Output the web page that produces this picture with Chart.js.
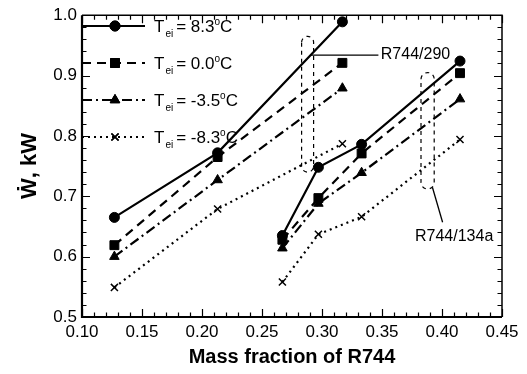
<!DOCTYPE html>
<html>
<head>
<meta charset="utf-8">
<script src="https://cdn.jsdelivr.net/npm/chart.js@4/dist/chart.umd.min.js"></script>
<style>
  html, body { margin: 0; padding: 0; background: #ffffff; }
  #wrap { width: 527px; height: 374px; }
</style>
</head>
<body>
<div id="wrap"><canvas id="c" width="527" height="374"></canvas></div>
<script>
// Mass fraction of R744 in each blend
const massFractionR290 = [0.127, 0.213, 0.317];          // R744/290
const massFractionR134a = [0.267, 0.297, 0.333, 0.415];  // R744/134a

// Evaporator inlet temperatures (legend), degrees C
const evapTemps = ['8.3', '0.0', '-3.5', '-8.3'];

// Compressor power, kW
const powerR290_83 = [0.665, 0.772, 0.989];
const powerR134a_83 = [0.635, 0.748, 0.786, 0.924];
const powerR290_00 = [0.619, 0.765, 0.921];
const powerR134a_00 = [0.628, 0.697, 0.771, 0.904];
const powerR290_m35 = [0.600, 0.727, 0.879];
const powerR134a_m35 = [0.614, 0.688, 0.739, 0.861];
const powerR290_m83 = [0.549, 0.679, 0.787];
const powerR134a_m83 = [0.558, 0.637, 0.666, 0.794];

// Axis ticks
const xTickValues = [0.10, 0.15, 0.20, 0.25, 0.30, 0.35, 0.40, 0.45];
const yTickValues = [0.5, 0.6, 0.7, 0.8, 0.9, 1.0];

const FONT = "'Liberation Sans', Arial, Helvetica, sans-serif";

function joinBlends(xa, ya, xb, yb) {
  const pts = xa.map((x, i) => ({ x: x, y: ya[i] }));
  pts.push({ x: xb[0], y: null });            // break between the two blends
  xb.forEach((x, i) => pts.push({ x: x, y: yb[i] }));
  return pts;
}

const styles = [
  { dash: [], pointStyle: 'circle', radius: 5, width: 2.2 },
  { dash: [9, 6], pointStyle: 'rect', radius: 6.3, width: 2.2 },
  { dash: [10, 4, 2, 4], pointStyle: 'triangle', radius: 5.5, width: 2.2 },
  { dash: [2, 4], pointStyle: 'crossRot', radius: 5, width: 2.2 }
];

const seriesPower = [
  [powerR290_83, powerR134a_83],
  [powerR290_00, powerR134a_00],
  [powerR290_m35, powerR134a_m35],
  [powerR290_m83, powerR134a_m83]
];

const datasets = evapTemps.map((t, k) => ({
  label: 'T_ei = ' + t + '°C',
  data: joinBlends(massFractionR290, seriesPower[k][0], massFractionR134a, seriesPower[k][1]),
  borderColor: '#000',
  backgroundColor: '#000',
  borderWidth: styles[k].width,
  borderDash: styles[k].dash,
  pointStyle: styles[k].pointStyle,
  pointRadius: styles[k].radius,
  pointBorderWidth: k === 3 ? 1.5 : 1,
  pointBackgroundColor: '#000',
  pointBorderColor: '#000',
  tension: 0,
  spanGaps: false,
  fill: false
}));

// Dashed loops grouping each blend, in data units
const blendLoops = [
  { x0: 0.2830, x1: 0.2930, y0: 0.740, y1: 0.965 },
  { x0: 0.3825, x1: 0.3935, y0: 0.712, y1: 0.905 }
];
// Callouts naming each blend, in data units
const blendCallouts = [
  { text: 'R744/290',  from: [0.2900, 0.934], to: [0.3470, 0.934], at: [0.3490, 0.934], align: 'left' },
  { text: 'R744/134a', from: [0.3920, 0.715], to: [0.4005, 0.657], at: [0.3775, 0.634], align: 'left' }
];

const framePlugin = {
  id: 'frame',
  afterDatasetsDraw(chart) {
    const { ctx, chartArea: a, scales: { x, y } } = chart;
    ctx.save();
    ctx.strokeStyle = '#000';
    ctx.lineCap = 'butt';

    // inward tick marks on all four sides
    ctx.lineWidth = 1.2;
    for (let i = 0; i <= 35; i++) {
      const v = 0.10 + i * 0.01;
      const px = Math.round(x.getPixelForValue(v)) + 0.5;
      const len = i % 5 === 0 ? 8 : 4.5;
      ctx.beginPath();
      ctx.moveTo(px, a.bottom); ctx.lineTo(px, a.bottom - len);
      ctx.moveTo(px, a.top); ctx.lineTo(px, a.top + len);
      ctx.stroke();
    }
    for (let i = 0; i <= 25; i++) {
      const v = 0.5 + i * 0.02;
      const py = Math.round(y.getPixelForValue(v)) + 0.5;
      const len = i % 5 === 0 ? 8 : 4.5;
      ctx.beginPath();
      ctx.moveTo(a.left, py); ctx.lineTo(a.left + len, py);
      ctx.moveTo(a.right, py); ctx.lineTo(a.right - len, py);
      ctx.stroke();
    }

    // frame
    ctx.lineWidth = 1.5;
    ctx.beginPath();
    ctx.moveTo(a.left, a.top); ctx.lineTo(a.right, a.top); ctx.lineTo(a.right, a.bottom);
    ctx.stroke();
    ctx.lineWidth = 2.2;
    ctx.beginPath();
    ctx.moveTo(a.left, a.top); ctx.lineTo(a.left, a.bottom); ctx.lineTo(a.right, a.bottom);
    ctx.stroke();

    // dashed loops around each blend group
    ctx.lineWidth = 1.2;
    ctx.setLineDash([4, 4]);
    blendLoops.forEach(l => {
      const xl = x.getPixelForValue(l.x0), xr = x.getPixelForValue(l.x1);
      const yt = y.getPixelForValue(l.y1), yb = y.getPixelForValue(l.y0);
      const r = (xr - xl) / 2;
      ctx.beginPath();
      ctx.moveTo(xl, yt + r);
      ctx.arc(xl + r, yt + r, r, Math.PI, 0);
      ctx.lineTo(xr, yb - r);
      ctx.arc(xl + r, yb - r, r, 0, Math.PI);
      ctx.closePath();
      ctx.stroke();
    });
    ctx.setLineDash([]);

    // callouts
    ctx.lineWidth = 1.3;
    ctx.fillStyle = '#000';
    ctx.font = '16px ' + FONT;
    ctx.textBaseline = 'middle';
    blendCallouts.forEach(c => {
      ctx.beginPath();
      ctx.moveTo(x.getPixelForValue(c.from[0]), y.getPixelForValue(c.from[1]));
      ctx.lineTo(x.getPixelForValue(c.to[0]), y.getPixelForValue(c.to[1]));
      ctx.stroke();
      ctx.textAlign = c.align;
      ctx.fillText(c.text, x.getPixelForValue(c.at[0]), y.getPixelForValue(c.at[1]));
    });

    // legend with subscripted symbol
    const rows = [26, 63, 100, 137];
    chart.data.datasets.forEach((ds, k) => {
      const ry = rows[k];
      ctx.lineWidth = ds.borderWidth;
      ctx.setLineDash(ds.borderDash);
      ctx.beginPath();
      ctx.moveTo(a.left, ry); ctx.lineTo(a.left + 63, ry);
      ctx.stroke();
      ctx.setLineDash([]);
      ctx.lineWidth = ds.pointBorderWidth;
      Chart.helpers.drawPoint(ctx, {
        pointStyle: ds.pointStyle, radius: ds.pointRadius, rotation: 0,
        borderWidth: ds.pointBorderWidth
      }, a.left + 33, ry);
      ctx.fillStyle = '#000';
      if (ds.pointStyle !== 'crossRot') ctx.fill();
      ctx.stroke();

      let tx = a.left + 72;
      ctx.textAlign = 'left';
      ctx.textBaseline = 'alphabetic';
      ctx.font = '17px ' + FONT;
      ctx.fillText('T', tx, ry + 6);
      tx += ctx.measureText('T').width + 1;
      ctx.font = '10px ' + FONT;
      ctx.fillText('ei', tx, ry + 11);
      tx += ctx.measureText('ei').width + 3;
      ctx.font = '17px ' + FONT;
      const main = '= ' + evapTemps[k];
      ctx.fillText(main, tx, ry + 6);
      tx += ctx.measureText(main).width;
      ctx.font = '10px ' + FONT;
      ctx.fillText('o', tx, ry - 1);
      tx += ctx.measureText('o').width;
      ctx.font = '17px ' + FONT;
      ctx.fillText('C', tx, ry + 6);
    });
    ctx.restore();
  }
};

new Chart(document.getElementById('c').getContext('2d'), {
  type: 'line',
  data: { datasets },
  options: {
    responsive: false,
    animation: false,
    devicePixelRatio: 1,
    layout: { padding: { left: 0, top: 15, right: 25, bottom: 0 } },
    plugins: { legend: { display: false }, tooltip: { enabled: false } },
    scales: {
      x: {
        type: 'linear', min: 0.10, max: 0.45,
        afterBuildTicks(s) { s.ticks = xTickValues.map(v => ({ value: v })); },
        afterFit(s) { s.height = 57; },
        ticks: {
          callback: v => v.toFixed(2), color: '#000', padding: 5,
          maxRotation: 0, autoSkip: false, font: { family: FONT, size: 17 }
        },
        grid: { display: false, drawTicks: false },
        border: { display: false },
        title: {
          display: true, text: 'Mass fraction of R744', color: '#000',
          font: { family: FONT, size: 20, weight: 'bold' }, padding: { top: 2, bottom: 5 }
        }
      },
      y: {
        type: 'linear', min: 0.5, max: 1.0,
        afterBuildTicks(s) { s.ticks = yTickValues.map(v => ({ value: v })); },
        afterFit(s) { s.width = 82; },
        ticks: {
          callback: v => v.toFixed(1), color: '#000', padding: 5,
          font: { family: FONT, size: 17 }
        },
        grid: { display: false, drawTicks: false },
        border: { display: false },
        title: {
          display: true, text: 'Ẇ, kW', color: '#000',
          font: { family: FONT, size: 22, weight: 'bold' }, padding: { top: 17, bottom: 0 }
        }
      }
    }
  },
  plugins: [framePlugin]
});
</script>
</body>
</html>
